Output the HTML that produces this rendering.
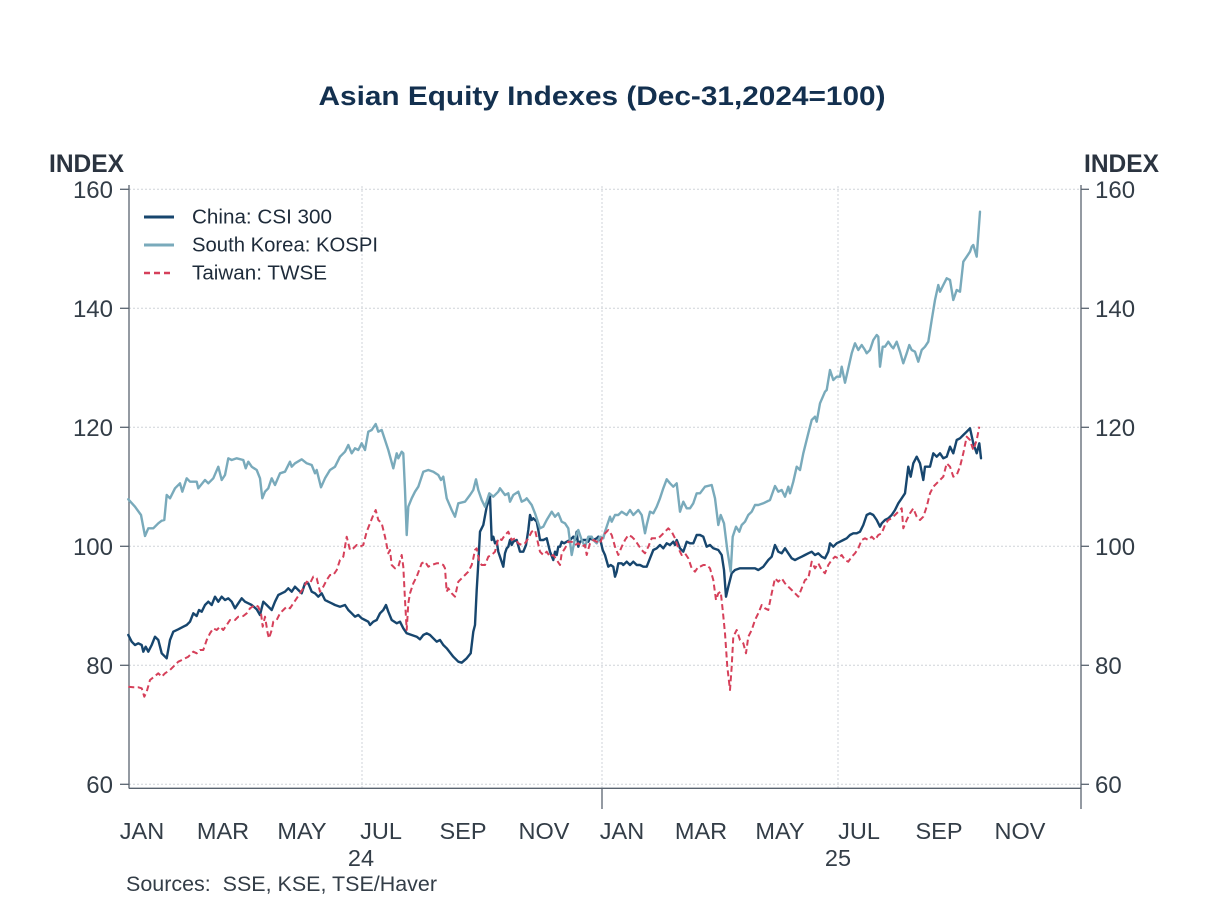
<!DOCTYPE html>
<html>
<head>
<meta charset="utf-8">
<style>
  html,body{margin:0;padding:0;background:#fff;}
  svg{display:block;}
  text{font-family:"Liberation Sans",sans-serif;}
</style>
</head>
<body>
<svg width="1208" height="906" viewBox="0 0 1208 906" xmlns="http://www.w3.org/2000/svg">
  <rect width="1208" height="906" fill="#fff"/>

  <!-- Title -->
  <text x="602" y="105" text-anchor="middle" font-size="27" font-weight="bold" fill="#13304f" textLength="567" lengthAdjust="spacingAndGlyphs">Asian Equity Indexes (Dec-31,2024=100)</text>

  <!-- INDEX labels -->
  <text x="49" y="172" font-size="25" font-weight="bold" fill="#2b3440" textLength="75" lengthAdjust="spacingAndGlyphs">INDEX</text>
  <text x="1084" y="172" font-size="25" font-weight="bold" fill="#2b3440" textLength="75" lengthAdjust="spacingAndGlyphs">INDEX</text>

  <!-- Gridlines -->
  <g stroke="#cfd3d8" stroke-width="1" stroke-dasharray="2,2" fill="none">
    <line x1="129" y1="189.3" x2="1081" y2="189.3"/>
    <line x1="129" y1="308.3" x2="1081" y2="308.3"/>
    <line x1="129" y1="427.3" x2="1081" y2="427.3"/>
    <line x1="129" y1="546.3" x2="1081" y2="546.3"/>
    <line x1="129" y1="665.3" x2="1081" y2="665.3"/>
    <line x1="129" y1="784.3" x2="1081" y2="784.3"/>
    <line x1="362" y1="186" x2="362" y2="788"/>
    <line x1="602" y1="186" x2="602" y2="788"/>
    <line x1="838" y1="186" x2="838" y2="788"/>
  </g>

  <!-- Axes -->
  <g stroke="#5a6470" stroke-width="1.3" fill="none">
    <line x1="129" y1="185" x2="129" y2="788.5"/>
    <line x1="1081" y1="185" x2="1081" y2="809"/>
    <line x1="129" y1="788.3" x2="1081" y2="788.3"/>
    <line x1="602" y1="788" x2="602" y2="809"/>
    <!-- left ticks -->
    <line x1="120" y1="189.3" x2="129" y2="189.3"/>
    <line x1="120" y1="308.3" x2="129" y2="308.3"/>
    <line x1="120" y1="427.3" x2="129" y2="427.3"/>
    <line x1="120" y1="546.3" x2="129" y2="546.3"/>
    <line x1="120" y1="665.3" x2="129" y2="665.3"/>
    <line x1="120" y1="784.3" x2="129" y2="784.3"/>
    <!-- right ticks -->
    <line x1="1081" y1="189.3" x2="1089" y2="189.3"/>
    <line x1="1081" y1="308.3" x2="1089" y2="308.3"/>
    <line x1="1081" y1="427.3" x2="1089" y2="427.3"/>
    <line x1="1081" y1="546.3" x2="1089" y2="546.3"/>
    <line x1="1081" y1="665.3" x2="1089" y2="665.3"/>
    <line x1="1081" y1="784.3" x2="1089" y2="784.3"/>
  </g>

  <!-- Y tick labels -->
  <g font-size="24" fill="#333d47">
    <g text-anchor="end">
      <text x="113" y="198">160</text>
      <text x="113" y="317">140</text>
      <text x="113" y="436">120</text>
      <text x="113" y="555">100</text>
      <text x="113" y="674">80</text>
      <text x="113" y="793">60</text>
    </g>
    <g text-anchor="start">
      <text x="1095" y="198">160</text>
      <text x="1095" y="317">140</text>
      <text x="1095" y="436">120</text>
      <text x="1095" y="555">100</text>
      <text x="1095" y="674">80</text>
      <text x="1095" y="793">60</text>
    </g>
  </g>

  <!-- X month labels -->
  <g font-size="23.5" fill="#333d47" text-anchor="middle">
    <text x="142" y="839">JAN</text>
    <text x="223" y="839">MAR</text>
    <text x="302" y="839">MAY</text>
    <text x="381" y="839">JUL</text>
    <text x="463" y="839">SEP</text>
    <text x="544" y="839">NOV</text>
    <text x="622" y="839">JAN</text>
    <text x="701" y="839">MAR</text>
    <text x="780" y="839">MAY</text>
    <text x="859" y="839">JUL</text>
    <text x="939" y="839">SEP</text>
    <text x="1020" y="839">NOV</text>
    <text x="361" y="866">24</text>
    <text x="838" y="866">25</text>
  </g>

  <!-- Sources -->
  <text x="126" y="891" font-size="21.5" fill="#333d47" textLength="311" lengthAdjust="spacingAndGlyphs" xml:space="preserve">Sources:  SSE, KSE, TSE/Haver</text>

  <!-- Series -->
  <g fill="none" stroke-linejoin="round" stroke-linecap="round">
    <!-- China CSI 300 -->
    <polyline stroke="#17466e" stroke-width="2.4" points="128.3,635 131.7,641.7 135,645 138.3,643.3 141.7,645 143.3,651.7 145.7,646.7 148.3,651.7 151.7,645 155,636.7 158.3,640 161.7,653.3 166.7,658.3 170,640 173.3,631.7 178.3,629.3 183.3,626.7 186.7,625 190,621.7 193.3,613.3 196.7,616 199,610 201.7,611.7 205,605 208.3,601.7 211.7,605 215,596.7 218.3,601.7 221.7,596.7 225,600 228.3,598.3 231.7,601.7 235,608.3 238.3,603.3 241.7,598.3 245,601.7 248.3,603.3 251.7,605 256.7,609.3 260,615 263.3,601.7 266.7,605 271.7,610 275,601.7 278.3,595 281.7,593.3 285,591.7 288.3,588.3 291.7,591.7 295,586.7 298.3,590 301.7,593.3 305,583.3 308.3,583.3 311.7,591.7 315,593.3 318.3,596.7 321.7,593.3 325,600 328.3,601.7 331.7,603.3 335,605 340,606.7 345,605 348.3,610 351.7,613.3 355,616.7 358.3,615 361.7,618.3 365,620 368.3,621.7 370,625 373.3,621.7 376.7,620 380,613.3 383.3,610 386,605 388.3,611.7 391.7,620 396.7,623.3 400,621.7 403.3,628.3 406.7,633.3 411.7,635 416.7,636.7 420,639.3 423.3,635 426.7,633.3 430,635 433.3,638.3 436.7,641.7 440,640 443.3,645 446.7,648.3 453.3,656.7 458.3,661.7 461.7,662.7 466.7,658.3 470.7,653.3 473.3,631.7 475,625 476.7,590 478.3,563.3 480,531.7 483.3,525 486.7,506.7 490,496.7 491.7,540 493.3,536.7 495,543.3 496.7,541.7 498.3,551.7 500,556.7 503.3,566.7 505,553.3 506.7,548.3 508.3,546.7 510,540 511.7,545 513.3,541.7 516.7,540 520,551.7 523.3,551.7 526,545 528.3,530 530,515 531.7,520 533.3,518.3 536.7,521.7 538.3,530 540,540 543.3,540 546.7,538.3 550,551.7 553.3,560 555,551.7 556.7,555 558.3,546.7 560,546.7 561.7,541.7 564,543.3 566.7,541.7 570,540 573.3,536.7 575,540 576.7,531.7 578.3,546.7 580,541.7 583.3,540 586.7,540 588.3,541.7 590,538.3 593.3,540 596.7,538.3 598.3,536.7 600,538.3 602.7,550 605,555 608.3,566.7 610.7,565 613.3,566.7 615,576.7 616.7,571.7 618.3,563.3 621.7,563.3 623.3,565 626.7,561.7 630,565 633.3,561.7 636.7,565 640,565 643.3,566.7 646.7,566.7 650,558.3 653.3,550 656.7,548.3 660,545 663.3,548.3 666.7,543.3 670,545 673.3,541.7 675,545 676.7,540 680,548.3 683.3,551.7 686.7,541.7 690,543.3 693.3,543.3 696.7,535 700,535 703.3,536.7 706.7,546.7 710,545 713.3,548.3 718.3,550 721.7,555 724,570 726,596.7 728.3,586.7 731.7,573.3 735,570 740,568.3 745,568.3 750,568.3 755,568.3 758.3,570 763.3,566.7 768.3,560 771.7,556.7 775,545 778.3,551.7 781.7,553.3 785,548.3 788.3,553.3 791.7,558.3 795,560 798.3,558.3 801.7,556.7 805,555 808.3,553.3 811.7,551.7 815,555 818.3,553.3 821.7,556.7 825,558.3 828.3,551.7 830,543.3 833.3,546.7 836.7,543.3 840,541.7 843.3,540 846.7,538.3 850,535 853.3,533.3 856.7,533.3 860,531.7 863.3,525 866.7,515 870,513.3 873.3,515 876.7,520 880,526.7 881.7,523.3 885,520 888.3,518.3 891.7,515 895,510 898.3,503.3 901.7,498.3 905,493.3 908.3,466.7 910.7,476.7 913.3,463.3 916.7,456.7 920,463.3 923.3,480 925,466.7 926.7,466.7 930,466.7 933.3,453.3 936.7,456.7 940,453.3 943.3,458.3 946.7,456.7 950,446.7 953.3,453.3 956.7,440 960,438.3 963.3,435 966.7,431.7 970,428.3 973.3,443.3 976.7,453.3 979.3,443.3 981,458.3"/>

    <!-- South Korea KOSPI -->
    <polyline stroke="#79aabb" stroke-width="2.4" points="128.3,499.3 135,506.7 141,515 145,536 148.3,528.3 153.3,528.3 158.3,523.3 161.7,520.7 164.3,520 166.7,495 170,498.3 175,488.3 180,483.3 182.3,491.7 186.7,478.3 190,481.7 196.7,481.7 198.3,488.3 205,480 208.3,483.3 213.3,478.3 218.3,466.7 221.7,480 225,475 228.3,458.3 231.7,460 236.7,458.3 243.3,460 245.7,468.3 248.3,461.7 251.7,466.7 256.7,470 260,478.3 262.3,498.3 265,491.7 268.3,488.3 271.7,478.3 275,485 280,473.3 285,471.7 290,461.7 291.7,466.7 295,463.3 301.7,459.3 306.7,463.3 311.7,465 315,473.3 316.7,470 321,487.3 325,478.3 330,470 335,466.7 340,456.7 345,451.7 348.3,445 351.7,453.3 355,448.3 358.3,450 361.7,443.3 365,450 368.3,431.7 371.7,430 375.7,424 378.3,431.7 381.7,430 385,440 388.3,450 393.3,468.3 396.7,453.3 398.3,458.3 401.7,451.7 403.3,453.3 405,490 406.7,535 408.3,506.7 411.7,498.3 415,491.7 418.3,486.7 423.3,471.7 428.3,470 433.3,471.7 438.3,475 441,480 443.3,476.7 446.7,498.3 451.7,510 455,516.7 458.3,503.3 465,501.7 470,495 473.3,490 476,479.3 478.3,490 481.7,500 485,506.7 489.3,493.3 493.3,496.7 498.3,491.7 500,488.3 505,495 508.3,493.3 510,501.7 513.3,495 518.3,491.7 521.7,501.7 525,500 526.7,498.3 531.7,505 535,513.3 540,528.3 543.3,526.7 546.7,520 551.7,511.7 555,516.7 558.3,513.3 561.7,521.7 565,523.3 568.3,528.3 571.7,555 575,538.3 578.3,530 581.7,540 585,546.7 588.3,536.7 591.7,536.7 593.3,540 596.7,543.3 600,536.7 603.3,538.3 605,531.7 610,516.7 611.7,521.7 615,515 618.3,515 621.7,511.7 626.7,515 630,510 633.3,515 638.3,510 641.7,515 645,533.3 646.7,525 650,511.7 653.3,513.3 656.7,506.7 660,498.3 663.3,488.3 666.7,479.3 670,483.3 673.3,486.7 676.7,483.3 680,511.7 683.3,501.7 686.7,508.3 690,508.3 693.3,503.3 696.7,493.3 700,493.3 705,486.7 711.7,485 715,498.3 718.3,525 720.7,515 724,523.3 727.3,550 730.7,571.7 732.7,536.7 736,526.7 739.3,531.7 741.7,525 745,521.7 748.3,515 751.7,511.7 755,505 758.3,505 763.3,503.3 770,500 775,486 778.3,491.7 781.7,490 785,496.7 788.3,486.7 790,493.3 793.3,481.7 796.7,466.7 800,470 803.3,453.3 808.3,433.3 811.7,420 815,416.7 816.7,421.7 820,403.3 825,391.7 826.7,390 830,370 833.3,380 836.7,376.7 840,376.7 841.7,366.7 845,382.7 848.3,368.3 851.7,353.3 855,343.3 858.3,350 861.7,345 865,350 866.7,353.3 870,350 873.3,340 876.7,335 878.3,336.7 880,366.7 882.7,346.7 885,346.7 888.3,341.7 891.7,346.7 893.3,348.3 896.7,341.7 900,351.7 903.3,363.3 906.7,353.3 909.3,345 911.7,350 915,351.7 918.3,361.7 921.7,350 925,346.7 928.3,341.7 931.7,320 935,300 938.3,285 940,291.7 943.3,285 946.7,278.3 950,280 953.3,300 956.7,290 960,291.7 963.3,261.7 966.7,256.7 970,251.7 971.7,246.7 973.3,245 976.7,256.7 980,211.7"/>

    <!-- Taiwan TWSE -->
    <polyline stroke="#d6405a" stroke-width="2" stroke-dasharray="6,3.5" stroke-linecap="butt" points="128.3,686.7 133.3,687.3 138.3,687.3 141.7,688.3 144.3,696.7 146.7,691.7 150,680 155,676 158.3,673.3 161.7,676.7 165,673.3 170,670 173.3,666.7 178.3,661.7 183.3,659.3 188.3,656.7 193.3,651.7 196.7,653.3 200,650 203.3,650 206.7,640 210,633.3 213.3,628.3 216.7,630 220,626.7 223.3,630 226.7,625 230,620 235,620 238.3,616.7 243.3,616 246.7,613.3 250,608.3 255,605 258.3,606.7 261,613.3 262.7,626.7 265,616.7 267.7,633.3 269,638.3 271.7,630 273.3,621.7 276.7,620 280,613.3 283.3,610 286.7,606.7 290,608.3 293.3,603.3 296.7,598.3 300,593.3 303.3,588.3 306.7,581.7 310,583.3 313.3,576.7 316.7,578.3 320,591.7 323.3,586.7 326.7,580 330,575 333.3,575 336.7,570 340,560 343.3,556.7 346.7,536.7 350,550 353.3,548.3 356.7,545 360,546.7 363.3,545 366.7,531.7 370,523.3 373.3,515 375.7,510 378.3,520 381.7,523.3 385,536.7 388.3,553.3 390,550 391.7,565 395,568.3 398.3,566.7 401.7,555 403.3,566.7 405,600 406.7,630 408.3,603.3 410,593.3 413.3,583.3 416.7,576.7 421.7,563.3 425,561.7 428.3,566.7 431.7,565 436.7,563.3 440,563.3 443.3,565 445,568.3 446.7,591.7 448.3,588.3 451.7,593.3 455,596.7 458.3,581.7 461.7,578.3 465,575 468.3,571.7 471.7,565 473.3,558.3 475,550 476.7,548.3 479.3,561.7 481.7,565 485,565 488.3,556.7 491.7,555 495,551.7 498.3,538.3 501.7,540 505,535 508.3,531.7 511.7,540 515,538.3 518.3,543.3 521.7,545 525,543.3 528.3,538.3 531.7,531.7 535,530 537.3,540 540,551.7 543.3,555 546.7,551.7 550,556.7 553.3,555 556.7,560 560,565 561.7,553.3 565,548.3 568.3,541.7 571.7,541.7 575,545 578.3,543.3 581.7,546.7 585,545 586.7,555 590,543.3 593.3,540 596.7,541.7 600,543.3 603.3,535 606.7,531.7 608.3,530 611.7,535 615,546.7 618.3,555 621.7,546.7 625,540 628.3,535 631.7,536.7 635,540 638.3,545 641.7,550 645,553.3 648.3,546.7 651.7,538.3 655,538.3 658.3,538.3 661.7,535 665,531.7 668.3,528.3 671.7,531.7 675,538.3 678.3,548.3 681.7,555 685,553.3 688.3,558.3 691.7,568.3 695,571.7 698.3,566.7 700,566.7 703.3,565 706.7,565 710,568.3 713.3,580 716,600 718.3,593.3 720.7,591.7 722.7,610 725,633.3 727.3,666.7 730,690 731.7,666.7 733.3,636.7 736.7,630 740,640 743.3,643.3 746,653.3 748.3,636.7 751.7,630 755,620 758.3,613.3 761.7,605 765,608.3 768.3,610 771.7,593.3 775,578.3 778.3,581.7 781.7,578.3 785,583.3 788.3,586.7 791.7,590 795,593.3 798.3,596.7 801.7,588.3 805,580 808.3,578.3 811.7,561.7 815,568.3 818.3,563.3 821.7,570 825,573.3 828.3,565 831.7,560 835,556.7 838.3,558.3 841.7,555 845,560 848.3,561.7 851.7,556.7 855,553.3 858.3,548.3 861.7,540 865,538.3 868.3,540 871.7,536.7 875,540 878.3,535 881.7,533.3 885,525 888.3,520 891.7,518.3 895,515 898.3,511.7 901.7,508.3 903.3,528.3 906.7,520 910,513.3 913.3,508.3 916.7,516.7 920,520 923.3,516.7 926.7,506.7 930,493.3 933.3,486.7 936.7,483.3 940,480 943.3,476.7 946.7,463.3 950,466.7 953.3,476.7 956.7,475 960,466.7 963.3,453.3 966.7,436.7 970,440 973.3,450 976.7,440 979.3,426.7"/>
  </g>

  <!-- Legend -->
  <line x1="144" y1="217" x2="174" y2="217" stroke="#17466e" stroke-width="3"/>
  <line x1="144" y1="245" x2="174" y2="245" stroke="#79aabb" stroke-width="3"/>
  <line x1="144" y1="273" x2="174" y2="273" stroke="#d6405a" stroke-width="2.5" stroke-dasharray="6,4"/>
  <g font-size="20.5" fill="#1e2b3a">
    <text x="192" y="223.5" textLength="140" lengthAdjust="spacingAndGlyphs">China: CSI 300</text>
    <text x="192" y="251.5" textLength="186" lengthAdjust="spacingAndGlyphs">South Korea: KOSPI</text>
    <text x="192" y="279.5" textLength="135" lengthAdjust="spacingAndGlyphs">Taiwan: TWSE</text>
  </g>
</svg>
</body>
</html>
